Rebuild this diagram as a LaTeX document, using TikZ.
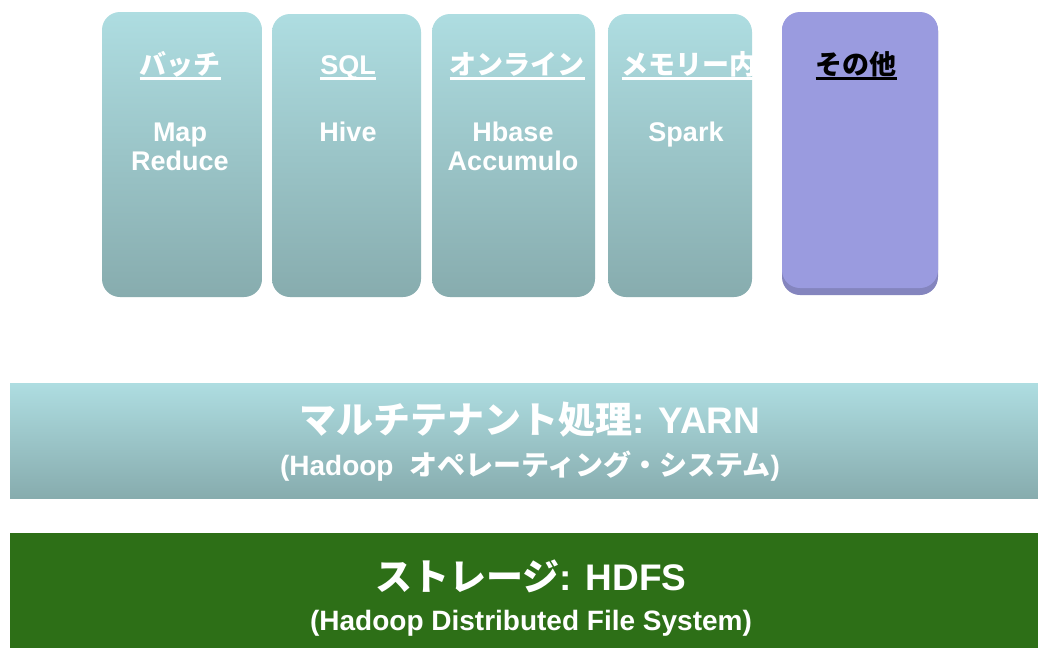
\documentclass[tikz,border=0pt]{standalone}
\usepackage{fontspec}
\setmainfont{Liberation Sans}
\newfontfamily\jp{Noto Sans CJK JP}
\newcommand\ulbar[1]{\vtop{\hbox{\raisebox{0pt}[\height][0pt]{#1}}\kern3pt\hrule height 2.5pt}}
\definecolor{tealtop}{HTML}{AEDDE1}
\definecolor{tealbot}{HTML}{87ACAE}
\definecolor{purp}{HTML}{9A9BDF}
\definecolor{purpdark}{HTML}{8485BE}
\definecolor{hdfsgreen}{HTML}{2D6F17}
\tikzset{
  colbox/.style={rounded corners=18pt, top color=tealtop, bottom color=tealbot, draw=none, inner sep=0pt},
  bar/.style={top color=tealtop, bottom color=tealbot, draw=none, inner sep=0pt, minimum width=1028pt, minimum height=115pt},
  boxtext/.style={text=white, font=\bfseries\fontsize{27}{29}\selectfont, anchor=base, inner sep=0pt, align=center},
  bigtext/.style={text=white, font=\bfseries\fontsize{37}{40}\selectfont, anchor=base, inner sep=0pt},
  subtext/.style={text=white, font=\bfseries\fontsize{28}{30}\selectfont, anchor=base, inner sep=0pt},
}
\begin{document}
\begin{tikzpicture}[x=1pt,y=-1pt]
\useasboundingbox (0,0) rectangle (1038,648);
\fill[white] (0,0) rectangle (1038,648);
% column boxes
\node[colbox, minimum width=160pt, minimum height=285pt] (b1) at (182,154.5) {};
\node[colbox, minimum width=149pt, minimum height=283pt] (b2) at (346.5,155.5) {};
\node[colbox, minimum width=163pt, minimum height=283pt] (b3) at (513.5,155.5) {};
\node[colbox, minimum width=144pt, minimum height=283pt] (b4) at (680,155.5) {};
\node[rounded corners=18pt, fill=purpdark, minimum width=156pt, minimum height=282pt, inner sep=0pt] (b5s) at (860,154) {};
\node[rounded corners=18pt, fill=purp, minimum width=156pt, minimum height=276pt, inner sep=0pt] (b5) at (860,150) {};
% titles
\node[boxtext] (t1) at (180,74) {\ulbar{\jp バッチ}};
\node[boxtext] (t2) at (348,74) {\ulbar{SQL}};
\node[boxtext] (t3) at (517,74) {\ulbar{\jp オンライン}};
\node[boxtext] (t4) at (689,74) {\ulbar{\jp メモリー内}};
\node[boxtext, text=black] (t5) at (856,74) {\ulbar{\jp その他}};
% contents
\node[boxtext] (c1) at (180,170) {Map\\Reduce};
\node[boxtext] (c2) at (348,141) {Hive};
\node[boxtext] (c3) at (513,170) {Hbase\\Accumulo};
\node[boxtext] (c4) at (686,141) {Spark};
% bars
\node[bar] (yarn) at (524,440.5) {};
\node[fill=hdfsgreen, draw=none, inner sep=0pt, minimum width=1028pt, minimum height=115pt] (hdfs) at (524,590.5) {};
\node[bigtext] (yt) at (530,433) {{\jp マルチテナント処理}: YARN};
\node[subtext] (ys) at (530,475) {(Hadoop\ \ {\jp オペレーティング・システム})};
\node[bigtext] (ht) at (531,590) {{\jp ストレージ}: HDFS};
\node[subtext] (hs) at (531,630) {(Hadoop Distributed File System)};
\end{tikzpicture}
\end{document}
